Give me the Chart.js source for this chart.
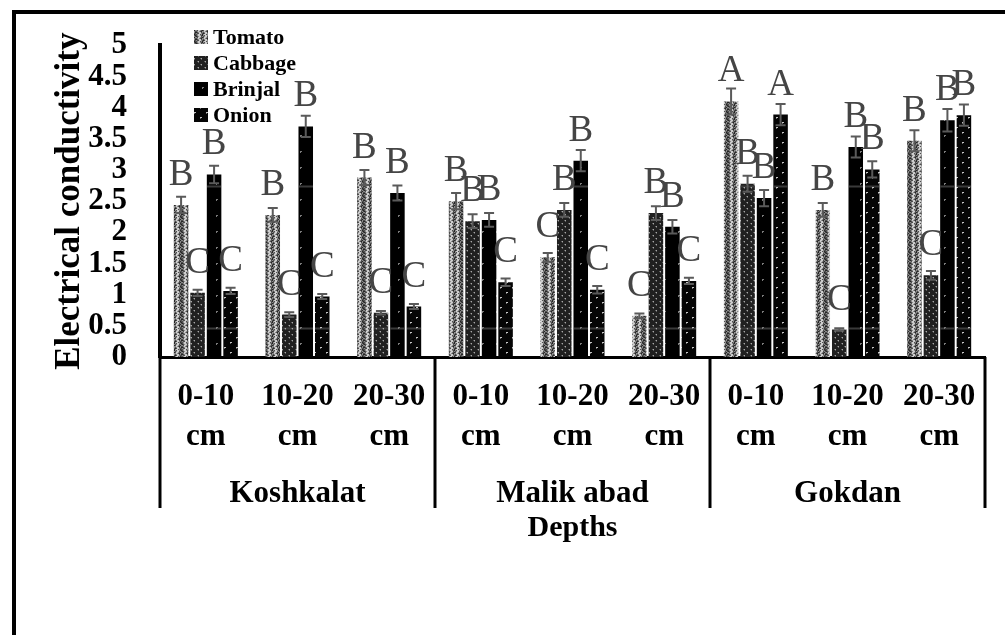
<!DOCTYPE html>
<html>
<head>
<meta charset="utf-8">
<script src="https://cdn.jsdelivr.net/npm/chart.js@4.4.1/dist/chart.umd.min.js"></script>
<style>
  html, body { margin: 0; padding: 0; background: #fff; }
  #wrap { width: 1005px; height: 635px; position: relative; }
</style>
</head>
<body>
<div id="wrap"><canvas id="c" width="1005" height="635"></canvas></div>
<script>
// Sites and sampling depths (x axis: depth within site)
const sites = ['Koshkalat', 'Malik abad', 'Gokdan'];
const depths = ['0-10', '10-20', '20-30'];

// Electrical conductivity per crop, ordered site by site, depth by depth
const tomato  = [2.44, 2.28, 2.88, 2.50, 1.60, 0.66, 4.10, 2.36, 3.47];
const cabbage = [1.03, 0.68, 0.71, 2.18, 2.36, 2.31, 2.78, 0.44, 1.31];
const brinjal = [2.93, 3.70, 2.63, 2.20, 3.15, 2.09, 2.55, 3.37, 3.80];
const onion   = [1.06, 0.97, 0.81, 1.20, 1.08, 1.22, 3.89, 3.01, 3.88];

// Standard errors
const tomatoErr  = [0.13, 0.11, 0.12, 0.13, 0.07, 0.04, 0.21, 0.11, 0.17];
const cabbageErr = [0.05, 0.04, 0.03, 0.11, 0.11, 0.11, 0.13, 0.02, 0.07];
const brinjalErr = [0.14, 0.17, 0.12, 0.11, 0.17, 0.11, 0.13, 0.17, 0.18];
const onionErr   = [0.05, 0.04, 0.04, 0.06, 0.06, 0.05, 0.17, 0.13, 0.17];

// Significance letters
const tomatoLetters  = ['B', 'B', 'B', 'B', 'C', 'C', 'A', 'B', 'B'];
const cabbageLetters = ['C', 'C', 'C', 'B', 'B', 'B', 'B', 'C', 'C'];
const brinjalLetters = ['B', 'B', 'B', 'B', 'B', 'B', 'B', 'B', 'B'];
const onionLetters   = ['C', 'C', 'C', 'C', 'C', 'C', 'A', 'B', 'B'];

// Y axis range
const yMin = 0, yMax = 5, yStep = 0.5;

// Levels of the faint rules that show through the dark bars
const faintRules = [0.47, 2.75];

const SERIF = '"Liberation Serif", "Times New Roman", serif';

const labels = sites.flatMap(() => depths.map(d => [d, 'cm']));

const canvas = document.getElementById('c');
const ctx = canvas.getContext('2d');

// Texture fills built from small character tiles
function tile(rows, palette) {
  const h = rows.length, w = rows[0].length;
  const c = document.createElement('canvas');
  c.width = w; c.height = h;
  const g = c.getContext('2d');
  for (let y = 0; y < h; y++) {
    for (let x = 0; x < w; x++) {
      g.fillStyle = palette[rows[y][x]];
      g.fillRect(x, y, 1, 1);
    }
  }
  return ctx.createPattern(c, 'repeat');
}

const tomatoFill = tile([
  'DMLLMDKMDLLMDK',
  'KDMLLDMDMLLDMD',
  'MDLLMDKDLLMDKM',
  'DMLMDKMMLMDKMD',
  'KDMLLDMDMLLDMK',
  'MDDLLMDKDLLMDD',
  'DMLLDMKMLLDMKD',
], { L: '#cdcdcd', M: '#8a8a8a', D: '#4e4e4e', K: '#262626' });

const cabbageFill = tile([
  'KKKKKKK',
  'KGWKKKK',
  'KKGKKKK',
  'KKKKKKK',
  'KKKKGWK',
  'KKKKKGK',
], { K: '#202020', G: '#5a5a5a', W: '#a8a8a8' });

const brinjalFill = tile([
  'KKKKKKKKKKKKKK', 'KKKKKKKKKKKKKK', 'KKKKKKKKKKKKKK', 'KKKKKKKKKKKKKK',
  'KKKKKKKKKKKKKK', 'KKKKKKKKKKKKKK', 'KKKKKKKKKKKKKK', 'KKKKKKGGKKKKKK',
  'KKKKKKGKKKKKKK', 'KKKKKKKKKKKKKK', 'KKKKKKKKKKKKKK', 'KKKKKKKKKKKKKK',
  'KKKKKKKKKKKKKK', 'KKKKKKKKKKKKKK', 'KKKKKKKKKKKKKK', 'KKKKKKKKKKKKKK',
], { K: '#000000', G: '#7a7a7a' });

const onionFill = tile([
  'KKKKKKKKKKKK',
  'KKKKKKKKKKKK',
  'KKWWKKKKKKKK',
  'KKGKKKKKKKKK',
  'KKKKKKKKKKKK',
  'KKKKKKKKKKKK',
  'KKKKKKKKKKKK',
  'KKKKKKKKWWKK',
  'KKKKKKKKGKKK',
  'KKKKKKKKKKKK',
], { K: '#050505', W: '#c4c4c4', G: '#6a6a6a' });

const datasets = [
  { label: 'Tomato',  data: tomato,  backgroundColor: tomatoFill,  errors: tomatoErr,  letters: tomatoLetters },
  { label: 'Cabbage', data: cabbage, backgroundColor: cabbageFill, errors: cabbageErr, letters: cabbageLetters },
  { label: 'Brinjal', data: brinjal, backgroundColor: brinjalFill, errors: brinjalErr, letters: brinjalLetters },
  { label: 'Onion',   data: onion,   backgroundColor: onionFill,   errors: onionErr,   letters: onionLetters },
];

// White page behind the chart
const paperPlugin = {
  id: 'paper',
  beforeDraw(chart) {
    const c = chart.ctx;
    c.save();
    c.fillStyle = '#fff';
    c.fillRect(0, 0, chart.width, chart.height);
    c.restore();
  }
};

// Black frame around the figure (left and top edges)
const framePlugin = {
  id: 'frame',
  afterDraw(chart) {
    const c = chart.ctx;
    c.save();
    c.strokeStyle = '#000';
    c.lineWidth = 4;
    c.beginPath();
    c.moveTo(14, chart.height);
    c.lineTo(14, 12);
    c.lineTo(chart.width, 12);
    c.stroke();
    c.restore();
  }
};

// Faint horizontal rules, visible only over the dark bars
const rulesPlugin = {
  id: 'rules',
  afterDatasetsDraw(chart) {
    const c = chart.ctx, y = chart.scales.y, a = chart.chartArea;
    c.save();
    c.globalCompositeOperation = 'lighten';
    c.strokeStyle = '#3a3a3a';
    c.lineWidth = 2;
    faintRules.forEach(v => {
      const py = Math.round(y.getPixelForValue(v)) + 0.5;
      c.beginPath();
      c.moveTo(a.left + 4, py);
      c.lineTo(a.right, py);
      c.stroke();
    });
    c.restore();
  }
};

// Error bars and significance letters
const annotatePlugin = {
  id: 'annotate',
  afterDatasetsDraw(chart) {
    const c = chart.ctx, y = chart.scales.y;
    c.save();
    chart.data.datasets.forEach((ds, di) => {
      const meta = chart.getDatasetMeta(di);
      meta.data.forEach((bar, i) => {
        const v = ds.data[i], e = ds.errors[i];
        const hi = y.getPixelForValue(v + e), lo = y.getPixelForValue(v - e);
        c.strokeStyle = '#5a5a5a';
        c.lineWidth = 2;
        c.beginPath();
        c.moveTo(bar.x, hi); c.lineTo(bar.x, lo);
        c.moveTo(bar.x - 5, hi); c.lineTo(bar.x + 5, hi);
        c.moveTo(bar.x - 5, lo); c.lineTo(bar.x + 5, lo);
        c.stroke();
      });
    });
    c.fillStyle = '#454545';
    c.font = '37px ' + SERIF;
    c.textAlign = 'center';
    c.textBaseline = 'alphabetic';
    chart.data.datasets.forEach((ds, di) => {
      const meta = chart.getDatasetMeta(di);
      meta.data.forEach((bar, i) => {
        c.fillText(ds.letters[i], bar.x, bar.y - 20);
      });
    });
    c.restore();
  }
};

// Site groups under the depth labels, with separators
const groupPlugin = {
  id: 'groups',
  afterDraw(chart) {
    const c = chart.ctx, x = chart.scales.x, a = chart.chartArea;
    const per = depths.length;
    const edges = [a.left];
    for (let k = 1; k < sites.length; k++) {
      edges.push((x.getPixelForTick(k * per - 1) + x.getPixelForTick(k * per)) / 2);
    }
    edges.push(a.right);
    c.save();
    c.strokeStyle = '#000';
    c.lineWidth = 3;
    edges.forEach(px => {
      c.beginPath();
      c.moveTo(px, a.bottom);
      c.lineTo(px, a.bottom + 151);
      c.stroke();
    });
    c.fillStyle = '#000';
    c.font = 'bold 31px ' + SERIF;
    c.textAlign = 'center';
    c.textBaseline = 'middle';
    sites.forEach((s, k) => {
      c.fillText(s, (edges[k] + edges[k + 1]) / 2, a.bottom + 137);
    });
    c.restore();
  }
};

// Legend in the upper left of the plot
const legendPlugin = {
  id: 'sideLegend',
  afterDraw(chart) {
    const c = chart.ctx;
    c.save();
    c.font = 'bold 22px ' + SERIF;
    c.textBaseline = 'middle';
    c.textAlign = 'left';
    chart.data.datasets.forEach((ds, i) => {
      const cy = 37 + i * 26;
      c.fillStyle = ds.backgroundColor;
      c.fillRect(194, cy - 7, 14, 14);
      c.fillStyle = '#000';
      c.fillText(ds.label, 213, cy + 1);
    });
    c.restore();
  }
};

new Chart(ctx, {
  type: 'bar',
  data: { labels, datasets },
  options: {
    responsive: false,
    animation: false,
    layout: { padding: { top: 38, right: 20, bottom: 0, left: 0 } },
    datasets: { bar: { categoryPercentage: 0.72, barPercentage: 0.88 } },
    plugins: { legend: { display: false }, tooltip: { enabled: false } },
    scales: {
      x: {
        grid: { display: false, drawTicks: false },
        border: { display: true, color: '#000', width: 3 },
        ticks: {
          color: '#000', maxRotation: 0, autoSkip: false, padding: 20,
          font: { family: SERIF, size: 31, weight: 'bold', lineHeight: 1.3 }
        },
        title: {
          display: true, text: 'Depths', color: '#000',
          font: { family: SERIF, size: 30, weight: 'bold', lineHeight: 1.2 },
          padding: { top: 0, bottom: 89 }
        },
        afterFit(s) { s.height = 278; }
      },
      y: {
        min: yMin, max: yMax,
        grid: { display: false, drawTicks: false },
        border: { display: true, color: '#000', width: 4 },
        ticks: {
          stepSize: yStep, color: '#000', padding: 33, autoSkip: false,
          maxTicksLimit: 20,
          font: { family: SERIF, size: 31, weight: 'bold', lineHeight: 0.8 },
          callback: v => String(Math.round(v * 10) / 10)
        },
        title: {
          display: true, text: 'Electrical conductivity', color: '#000',
          font: { family: SERIF, size: 35, weight: 'bold', lineHeight: 1.2 },
          padding: { top: 49, bottom: 0 }
        },
        afterFit(s) { s.width = 160; }
      }
    }
  },
  plugins: [paperPlugin, rulesPlugin, annotatePlugin, groupPlugin, legendPlugin, framePlugin]
});
</script>
</body>
</html>
